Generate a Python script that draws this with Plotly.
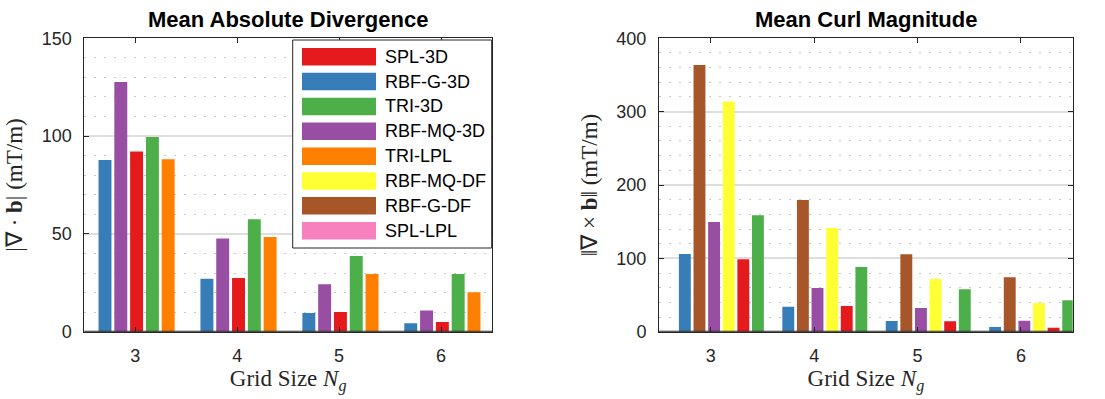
import plotly.graph_objects as go

# ---------------- data ----------------
grid_sizes = [3, 4, 5, 6]

method_names = ["SPL-3D", "RBF-G-3D", "TRI-3D", "RBF-MQ-3D", "TRI-LPL",
                "RBF-MQ-DF", "RBF-G-DF", "SPL-LPL"]
method_colors = ["#E41A1C", "#377EB8", "#4DAF4A", "#984EA3", "#FF7F00",
                 "#FFFF33", "#A65628", "#F781BF"]

# Mean absolute divergence (mT/m)
div_rbf_g_3d = [87.8, 27.1, 9.6, 4.3]
div_rbf_mq_3d = [127.6, 47.6, 24.2, 10.9]
div_spl_3d = [92.1, 27.5, 10.1, 5.0]
div_tri_3d = [99.6, 57.5, 38.7, 29.5]
div_tri_lpl = [88.2, 48.4, 29.5, 20.2]

# Mean curl magnitude (mT/m)
curl_rbf_g_3d = [105.9, 34.1, 14.6, 6.4]
curl_rbf_g_df = [363.6, 179.5, 105.5, 74.2]
curl_rbf_mq_3d = [149.6, 59.6, 32.3, 15.0]
curl_rbf_mq_df = [314.0, 141.4, 71.8, 39.1]
curl_spl_3d = [98.7, 35.0, 14.2, 5.5]
curl_tri_3d = [158.7, 88.2, 57.8, 42.8]

color_of = dict(zip(method_names, method_colors))

left_series = [("RBF-G-3D", div_rbf_g_3d), ("RBF-MQ-3D", div_rbf_mq_3d),
               ("SPL-3D", div_spl_3d), ("TRI-3D", div_tri_3d),
               ("TRI-LPL", div_tri_lpl)]
right_series = [("RBF-G-3D", curl_rbf_g_3d), ("RBF-G-DF", curl_rbf_g_df),
                ("RBF-MQ-3D", curl_rbf_mq_3d), ("RBF-MQ-DF", curl_rbf_mq_df),
                ("SPL-3D", curl_spl_3d), ("TRI-3D", curl_tri_3d)]

# ---------------- figure ----------------
W, H = 1105, 399
fig = go.Figure()

lw, lstep, lstart = 0.127, 0.155, -0.297
for k, (name, vals) in enumerate(left_series):
    c = lstart + k * lstep
    fig.add_trace(go.Bar(x=grid_sizes, y=vals, name=name, showlegend=False,
                         marker=dict(color=color_of[name], line=dict(width=0)),
                         width=lw, offset=c - lw / 2, xaxis="x", yaxis="y"))

rw, rstep, rstart = 0.115, 0.1413, -0.25
for k, (name, vals) in enumerate(right_series):
    c = rstart + k * rstep
    fig.add_trace(go.Bar(x=grid_sizes, y=vals, name=name, showlegend=False,
                         marker=dict(color=color_of[name], line=dict(width=0)),
                         width=rw, offset=c - rw / 2, xaxis="x2", yaxis="y2"))

axcol = "#262626"
tickfont = dict(family="Liberation Sans, Arial, sans-serif", size=18, color=axcol)
labfont = dict(family="Liberation Serif, Times New Roman, serif", size=23, color=axcol)

def xaxis(domain, anchor):
    return dict(domain=domain, anchor=anchor, range=[2.5, 6.5], automargin=False,
                tickvals=grid_sizes, ticktext=[str(g) for g in grid_sizes],
                showline=True, linecolor=axcol, linewidth=1, mirror="ticks",
                ticks="inside", ticklen=5, tickcolor=axcol, tickwidth=1,
                showgrid=False, zeroline=False, tickfont=tickfont,
                ticklabelstandoff=8,
                title=dict(text="Grid Size <i>N</i><sub><i>g</i></sub>",
                           font=labfont, standoff=2))

def yaxis(domain, anchor, rng, major, minor, title, standoff):
    return dict(domain=domain, anchor=anchor, range=rng, dtick=major, automargin=False,
                showline=True, linecolor=axcol, linewidth=1, mirror="ticks",
                ticks="inside", ticklen=5, tickcolor=axcol, tickwidth=1,
                showgrid=True, gridcolor="#dedede", gridwidth=1.5,
                zeroline=False, tickfont=tickfont, ticklabelstandoff=8,
                minor=dict(dtick=minor, showgrid=True, gridcolor="#c8c8c8",
                           griddash="2px,8px", gridwidth=1, ticks=""),
                title=dict(text=title, font=labfont, standoff=standoff))

ydom = [1 - 331.7 / H, 1 - 38.3 / H]
fig.update_layout(
    width=W, height=H, margin=dict(l=0, r=0, t=0, b=0, pad=0), autosize=False,
    paper_bgcolor="white", plot_bgcolor="white", barmode="overlay",
    xaxis=xaxis([84.3 / W, 492.0 / W], "y"),
    yaxis=yaxis(ydom, "x", [0, 150], 50, 10, "|∇ · <b>b</b>| (mT/m)", 12),
    xaxis2=xaxis([659.0 / W, 1072.7 / W], "y2"),
    yaxis2=yaxis(ydom, "x2", [0, 400], 100, 20, "‖∇ × <b>b</b>‖ (mT/m)", 12),
)

titlefont = dict(family="Liberation Sans, Arial, sans-serif", size=22, color="black")
fig.add_annotation(text="<b>Mean Absolute Divergence</b>", xref="paper", yref="paper",
                   x=(84.3 + 492.0) / 2 / W, y=1 - 19 / H, showarrow=False,
                   font=titlefont, xanchor="center", yanchor="middle")
fig.add_annotation(text="<b>Mean Curl Magnitude</b>", xref="paper", yref="paper",
                   x=(659.0 + 1072.7) / 2 / W, y=1 - 19 / H, showarrow=False,
                   font=titlefont, xanchor="center", yanchor="middle")

for xr, yr in (("x", "y"), ("x2", "y2")):
    fig.add_shape(type="line", xref=f"{xr} domain", yref=yr, x0=0, x1=1, y0=0, y1=0,
                  line=dict(color=axcol, width=2), layer="above")

# legend box (layout element)
lx0, lx1, ly0, ly1 = 292.7, 491.7, 40.0, 248.0
fig.add_shape(type="rect", xref="paper", yref="paper", x0=lx0 / W, x1=lx1 / W,
              y0=1 - ly1 / H, y1=1 - ly0 / H, fillcolor="white",
              line=dict(color=axcol, width=1), layer="above")
row0, rowstep, swh = 56.7, 24.86, 17.5
for i, (name, col) in enumerate(zip(method_names, method_colors)):
    cy = row0 + i * rowstep
    fig.add_shape(type="rect", xref="paper", yref="paper", x0=302 / W, x1=376 / W,
                  y0=1 - (cy + swh / 2) / H, y1=1 - (cy - swh / 2) / H,
                  fillcolor=col, line=dict(width=0), layer="above")
    fig.add_annotation(text=name, xref="paper", yref="paper", x=383 / W, y=1 - cy / H,
                       xanchor="left", yanchor="middle", showarrow=False,
                       font=dict(family="Liberation Sans, Arial, sans-serif",
                                 size=18, color="black"))

fig.write_html("out.html", config={"displayModeBar": False},
               post_script="document.body.style.margin='0px';"
                           "document.body.style.overflow='hidden';")
